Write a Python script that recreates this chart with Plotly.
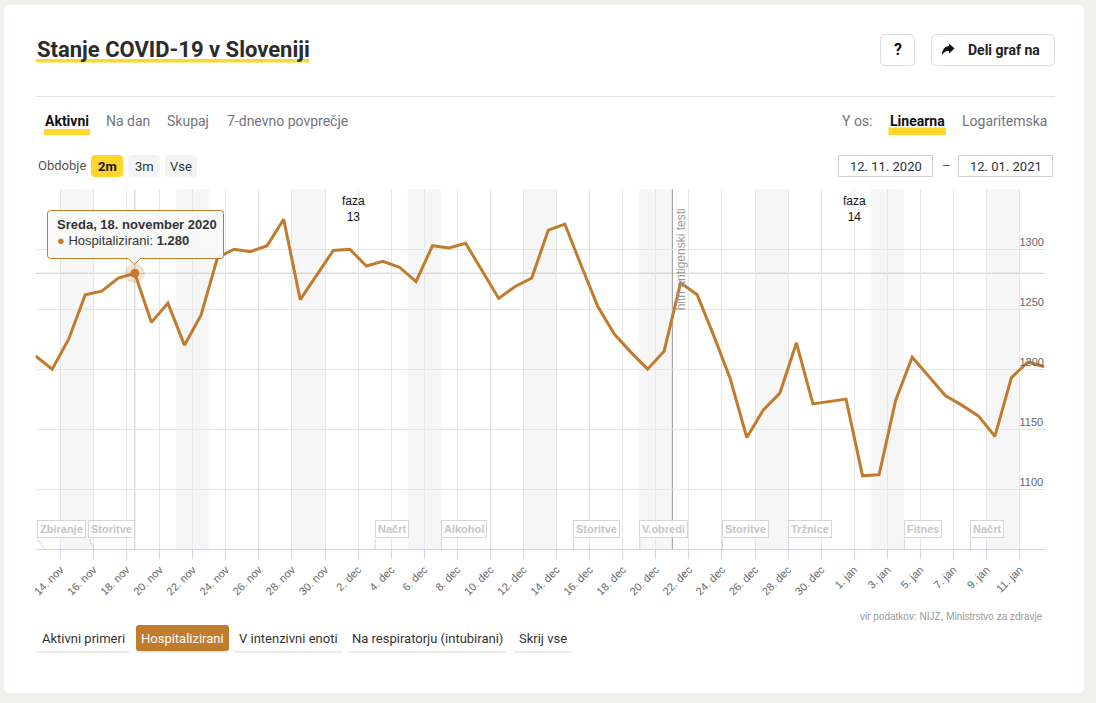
import plotly.graph_objects as go
import pandas as pd

W, H = 1096, 703

# ---------------- data ----------------
start_date = "2020-11-12 12:00"
hospitalizirani = [
    1211, 1200, 1225, 1262, 1265, 1276, 1280, 1239, 1255, 1220, 1245, 1293,
    1300, 1298, 1303, 1325, 1258, 1278, 1299, 1300, 1286, 1290, 1285, 1273,
    1303, 1301, 1305, 1282, 1259, 1269, 1276, 1316, 1321, 1286, 1252, 1229,
    1214, 1200, 1215, 1272, 1262, 1228, 1192, 1143, 1166, 1180, 1222, 1171,
    1173, 1175, 1111, 1112, 1174, 1210, 1194, 1178, 1170, 1161, 1144, 1193,
    1206, 1202,
]
dates = pd.date_range(start_date, periods=len(hospitalizirani), freq="D")

tick_dates = pd.date_range("2020-11-14", "2021-01-11", freq="2D")
tick_labels = [
    "14. nov", "16. nov", "18. nov", "20. nov", "22. nov", "24. nov", "26. nov",
    "28. nov", "30. nov", "2. dec", "4. dec", "6. dec", "8. dec", "10. dec",
    "12. dec", "14. dec", "16. dec", "18. dec", "20. dec", "22. dec", "24. dec",
    "26. dec", "28. dec", "30. dec", "1. jan", "3. jan", "5. jan", "7. jan",
    "9. jan", "11. jan",
]
y_ticks = [1050, 1100, 1150, 1200, 1250, 1300, 1350]
y_tick_labels = ["", "1100", "1150", "1200", "1250", "1300", ""]

weekend_starts = ["2020-11-14", "2020-11-21", "2020-11-28", "2020-12-05",
                  "2020-12-12", "2020-12-19", "2020-12-26", "2021-01-02",
                  "2021-01-09"]

event_names = ["Zbiranje", "Storitve", "Načrt", "Alkohol", "Storitve",
               "V.obredi", "Storitve", "Tržnice", "Fitnes", "Načrt"]
event_dates = ["2020-11-13", "2020-11-16", "2020-12-03", "2020-12-07",
               "2020-12-15", "2020-12-19", "2020-12-24", "2020-12-28",
               "2021-01-04", "2021-01-08"]

phase_names = ["faza<br>13", "faza<br>14"]
phase_dates = ["2020-12-01 18:00", "2021-01-01 01:00"]

marker_line_date = "2020-12-21"
marker_line_label = "hitri antigenski testi"

hover_index = 6  # 18. november 2020

# ---------------- helpers ----------------
LINE = "#c17b2d"
UI_FONT = "Roboto"
CH_FONT = "Liberation Sans"


def X(px):
    return px / W


def Y(py):
    return 1 - py / H


def rrect_path(x0, y0, x1, y1, r):
    a0, a1 = X(x0), X(x1)
    b0, b1 = Y(y0), Y(y1)
    rx, ry = r / W, r / H
    return (f"M {a0+rx},{b0} L {a1-rx},{b0} Q {a1},{b0} {a1},{b0-ry} "
            f"L {a1},{b1+ry} Q {a1},{b1} {a1-rx},{b1} L {a0+rx},{b1} "
            f"Q {a0},{b1} {a0},{b1+ry} L {a0},{b0-ry} Q {a0},{b0} {a0+rx},{b0} Z")


shapes = []
annotations = []


def rbox(x0, y0, x1, y1, r, fill, line=None, lw=1, layer="below"):
    shapes.append(dict(type="path", xref="paper", yref="paper",
                       path=rrect_path(x0, y0, x1, y1, r), fillcolor=fill,
                       line=dict(color=line or "rgba(0,0,0,0)", width=lw if line else 0),
                       layer=layer))


def rect(x0, y0, x1, y1, fill, line=None, lw=1, layer="below"):
    shapes.append(dict(type="rect", xref="paper", yref="paper",
                       x0=X(x0), x1=X(x1), y0=Y(y1), y1=Y(y0), fillcolor=fill,
                       line=dict(color=line or "rgba(0,0,0,0)", width=lw if line else 0),
                       layer=layer))


def hline(x0, x1, py, color, w=1, layer="below"):
    shapes.append(dict(type="line", xref="paper", yref="paper", x0=X(x0), x1=X(x1),
                       y0=Y(py), y1=Y(py), line=dict(color=color, width=w), layer=layer))


def txt(px, py, s, size=14, color="#333", family=UI_FONT, xanchor="left", **kw):
    annotations.append(dict(x=X(px), y=Y(py), xref="paper", yref="paper", text=s,
                            showarrow=False, xanchor=xanchor, yanchor="middle",
                            font=dict(size=size, color=color, family=family), **kw))


# ---------------- page chrome ----------------
rbox(4, 5, 1084, 693, 6, "#ffffff")

txt(35, 50, "<b>Stanje COVID-19 v Sloveniji</b>", size=22, color="#2b2b2b")
rect(36, 59, 309, 62.5, "#ffd629")

rbox(880.5, 34.5, 914.5, 65.5, 5, "#ffffff", "#dcdcdc")
txt(897.5, 50, "<b>?</b>", size=16, color="#111", xanchor="center")
rbox(931.5, 34.5, 1054.5, 65.5, 5, "#ffffff", "#dcdcdc")
shapes.append(dict(type="path", xref="paper", yref="paper",
                   path=(f"M {X(949)},{Y(43.5)} L {X(954.5)},{Y(48.5)} L {X(949)},{Y(53.5)} "
                         f"L {X(949)},{Y(51)} Q {X(944)},{Y(50.5)} {X(942)},{Y(55.5)} "
                         f"Q {X(942)},{Y(46.5)} {X(949)},{Y(46)} Z"),
                   fillcolor="#111", line=dict(width=0), layer="above"))
txt(1003.5, 50, "<b>Deli graf na</b>", size=14, color="#222", xanchor="center")

hline(36, 1055, 96.5, "#e2e2e8")

rect(44, 129, 90, 135, "#ffd629")
txt(67, 121, "<b>Aktivni</b>", size=14, color="#111", xanchor="center")
txt(128, 121, "Na dan", size=14, color="#747483", xanchor="center")
txt(188, 121, "Skupaj", size=14, color="#747483", xanchor="center")
txt(287.5, 121, "7-dnevno povprečje", size=14, color="#747483", xanchor="center")

txt(857, 121, "Y os:", size=14, color="#747483", xanchor="center")
rect(888.5, 127.5, 946, 135, "#ffd629")
txt(917, 121, "<b>Linearna</b>", size=14, color="#111", xanchor="center")
txt(1004, 121, "Logaritemska", size=14, color="#747483", xanchor="center")

txt(36, 165, "Obdobje", size=13, color="#555", )
rbox(91, 155, 123, 177, 4, "#ffd629")
txt(107, 166, "<b>2m</b>", size=13, color="#111", xanchor="center")
rbox(128, 155, 160, 177, 4, "#f4f4f4")
txt(144, 166, "3m", size=13, color="#333", xanchor="center")
rbox(165, 155, 197, 177, 4, "#f4f4f4")
txt(181, 166, "Vse", size=13, color="#333", xanchor="center")

rect(838.5, 155.5, 932.5, 176.5, "#ffffff", "#cfcfd4")
txt(885.5, 166, "12. 11. 2020", size=13, color="#333", xanchor="center")
txt(946, 165, "–", size=13, color="#555", xanchor="center")
rect(958.5, 155.5, 1052.5, 176.5, "#ffffff", "#cfcfd4")
txt(1005.5, 166, "12. 01. 2021", size=13, color="#333", xanchor="center")

txt(1045, 616, "vir podatkov: NIJZ, Ministrstvo za zdravje", size=10, color="#999",
    family=CH_FONT, xanchor="right")

buttons = [("Aktivni primeri", 36, 130), ("Hospitalizirani", 136, 229),
           ("V intenzivni enoti", 234, 342), ("Na respiratorju (intubirani)", 348, 507),
           ("Skrij vse", 513, 572)]
for i, (lab, bx0, bx1) in enumerate(buttons):
    rbox(bx0, 627, bx1, 653, 3, "rgba(0,0,0,0.08)")
    rbox(bx0, 625, bx1, 651, 3, LINE if i == 1 else "#ffffff")
    txt((bx0 + bx1) / 2, 638, lab, size=13, color="#ffffff" if i == 1 else "#333",
        xanchor="center")

# ---------------- chart decorations ----------------
for ws in weekend_starts:
    we = pd.Timestamp(ws) + pd.Timedelta(days=2)
    shapes.append(dict(type="rect", xref="x", yref="paper", x0=ws, x1=we,
                       y0=Y(549), y1=Y(189.3),
                       fillcolor="#f6f6f6", line=dict(width=0), layer="below"))

hx = dates[hover_index]
hy = hospitalizirani[hover_index]
shapes.append(dict(type="line", xref="x", yref="paper", x0=hx, x1=hx,
                   y0=Y(549), y1=Y(189.3),
                   line=dict(color="#cccccc", width=1), layer="below"))
shapes.append(dict(type="line", xref="paper", yref="y", x0=X(35.6), x1=X(1044.5),
                   y0=hy, y1=hy, line=dict(color="#cccccc", width=1), layer="below"))

shapes.append(dict(type="line", xref="x", yref="paper", x0=marker_line_date,
                   x1=marker_line_date, y0=Y(549), y1=Y(189.3),
                   line=dict(color="#999999", width=1), layer="below"))
annotations.append(dict(x=marker_line_date, xref="x", xshift=9, y=Y(259), yref="paper",
                        text=marker_line_label, textangle=-90, showarrow=False,
                        font=dict(size=12, color="#9a9a9a", family=CH_FONT),
                        xanchor="center", yanchor="middle"))

for name, d in zip(phase_names, phase_dates):
    annotations.append(dict(x=d, xref="x", y=Y(208.5), yref="paper", text=name,
                            showarrow=False, align="center", xanchor="center",
                            yanchor="middle",
                            font=dict(size=12, color="#111", family=CH_FONT)))

box_shift = {0: -7, 1: -5}
for i, (name, d) in enumerate(zip(event_names, event_dates)):
    sh = box_shift.get(i, 0)
    annotations.append(dict(x=d, xref="x", xshift=sh, y=Y(529), yref="paper",
                            text=f"<b>{name}</b>", showarrow=False, xanchor="left",
                            yanchor="middle", bgcolor="rgba(255,255,255,0.85)",
                            bordercolor="#d6d6d6", borderwidth=1, borderpad=2,
                            font=dict(size=11, color="#c6c6c6", family=CH_FONT)))
    shapes.append(dict(type="line", xref="x", xsizemode="pixel", xanchor=d,
                       x0=sh + 0.5, x1=0.5, yref="paper", y0=Y(539), y1=Y(549),
                       line=dict(color="#d6d6d6", width=1), layer="above"))

# tooltip
tx0, tx1, ty0, ty1 = 47.5, 223.5, 210.5, 258.5
px_pt = 134.3
tip = (f"M {X(tx0+3)},{Y(ty0)} L {X(tx1-3)},{Y(ty0)} Q {X(tx1)},{Y(ty0)} {X(tx1)},{Y(ty0+3)} "
       f"L {X(tx1)},{Y(ty1-3)} Q {X(tx1)},{Y(ty1)} {X(tx1-3)},{Y(ty1)} "
       f"L {X(px_pt+6)},{Y(ty1)} L {X(px_pt)},{Y(ty1+6)} L {X(px_pt-6)},{Y(ty1)} "
       f"L {X(tx0+3)},{Y(ty1)} Q {X(tx0)},{Y(ty1)} {X(tx0)},{Y(ty1-3)} "
       f"L {X(tx0)},{Y(ty0+3)} Q {X(tx0)},{Y(ty0)} {X(tx0+3)},{Y(ty0)} Z")
shapes.append(dict(type="path", xref="paper", yref="paper", path=tip,
                   fillcolor="rgba(248,248,248,0.92)", line=dict(color=LINE, width=1),
                   layer="above"))
dni = ["Ponedeljek", "Torek", "Sreda", "Četrtek", "Petek", "Sobota", "Nedelja"]
mes = ["januar", "februar", "marec", "april", "maj", "junij", "julij", "avgust",
       "september", "oktober", "november", "december"]
head = f"{dni[hx.weekday()]}, {hx.day}. {mes[hx.month-1]} {hx.year}"
val = f"{hy:,}".replace(",", ".")
txt(55, 224.5, f"<b>{head}</b>", size=13, color="#333", family=CH_FONT)
txt(55, 240.5, f"<span style='color:{LINE}'>●</span> Hospitalizirani: <b>{val}</b>",
    size=13, color="#333", family=CH_FONT)

# ---------------- traces ----------------
fig = go.Figure()
fig.add_trace(go.Scatter(x=dates, y=hospitalizirani, mode="lines",
                         line=dict(color=LINE, width=3), name="Hospitalizirani",
                         hoverinfo="skip"))
fig.add_trace(go.Scatter(x=[hx], y=[hy], mode="markers",
                         marker=dict(size=20, color="rgba(193,123,45,0.22)"),
                         hoverinfo="skip"))
fig.add_trace(go.Scatter(x=[hx], y=[hy], mode="markers",
                         marker=dict(size=9, color=LINE, line=dict(width=0)),
                         hoverinfo="skip"))

fig.update_layout(
    template="none",
    width=W, height=H, autosize=False,
    margin=dict(l=0, r=0, t=0, b=0, pad=0),
    paper_bgcolor="#f1f1ec", plot_bgcolor="rgba(0,0,0,0)",
    showlegend=False, hovermode=False,
    shapes=shapes, annotations=annotations,
    xaxis=dict(type="date", domain=[X(35.6), X(1044.5)],
               range=["2020-11-12 12:00", "2021-01-12 12:00"],
               tickvals=tick_dates, ticktext=tick_labels, tickangle=-45,
               tickfont=dict(size=11, color="#666", family=CH_FONT),
               ticks="outside", ticklen=9, tickcolor="#ccd6eb", tickwidth=1,
               showline=True, linecolor="#ccd6eb", linewidth=1,
               showgrid=True, gridcolor="#e6e6e6", gridwidth=1,
               zeroline=False, automargin=False, fixedrange=True),
    yaxis=dict(domain=[Y(549), Y(189.3)], range=[1050, 1350], side="right",
               tickvals=y_ticks, ticktext=y_tick_labels,
               ticklabelposition="outside", ticklabelshift=-7, ticklabelstandoff=-26,
               tickfont=dict(size=11, color="#666", family=CH_FONT),
               ticks="", showline=False, showgrid=True, gridcolor="#e6e6e6",
               gridwidth=1, zeroline=False, automargin=False, fixedrange=True),
)

fig.write_html("out.html")
